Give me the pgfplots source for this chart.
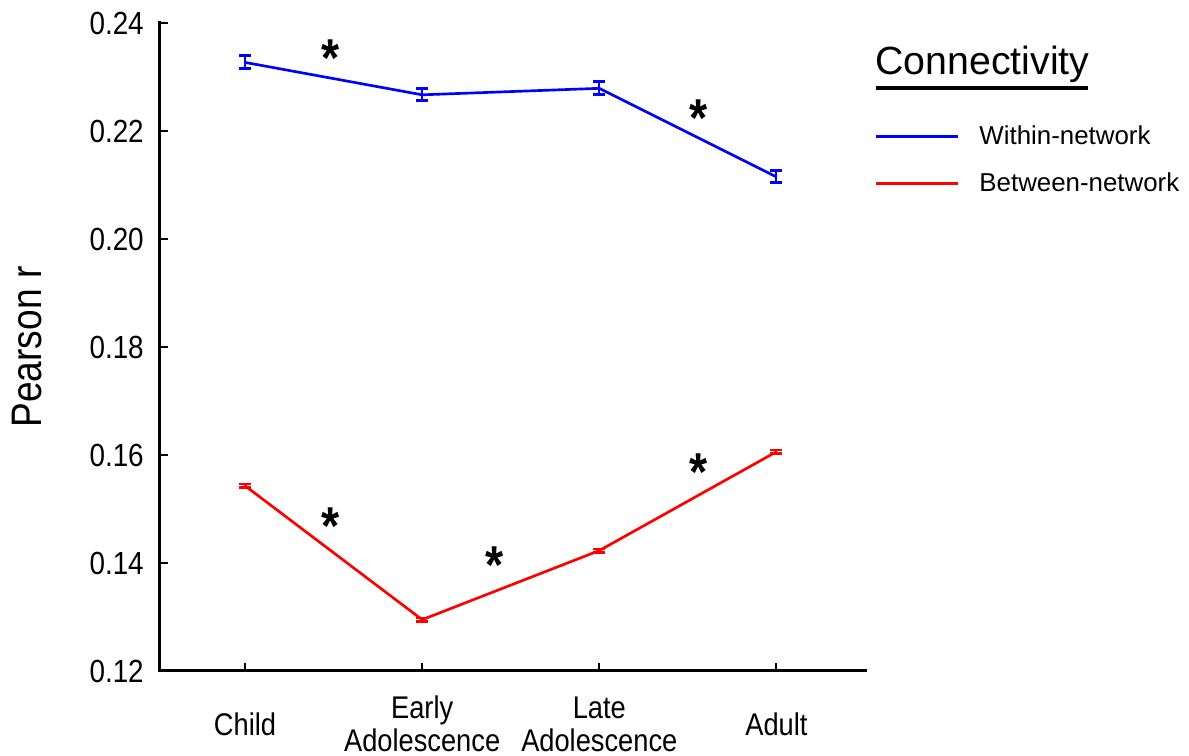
\documentclass[border=0pt]{standalone}
\usepackage{fontspec}
\setmainfont{Liberation Sans}[FakeStretch=0.87]
\newfontfamily\legfont{Liberation Sans}
\usepackage{pgfplots}
\pgfplotsset{compat=1.18}
\begin{document}
\begin{tikzpicture}
\path[use as bounding box] (-120pt,-63.75pt) rectangle (771.75pt,503.25pt);
\begin{axis}[
  at={(0pt,0pt)}, anchor=south west,
  scale only axis, width=528.75pt, height=486pt,
  xmin=-0.48, xmax=3.5, ymin=0.12, ymax=0.24,
  axis x line*=bottom, axis y line*=left,
  axis line style={line width=2.25pt, line cap=rect},
  tick align=inside, major tick length=6pt,
  tick style={line width=1.5pt, black},
  xtick={0,1,2,3},
  xticklabels={Child, Early\\Adolescence, Late\\Adolescence, Adult},
  xticklabel style={align=center, anchor=center, yshift=-39.75pt, font=\fontsize{23.5}{24.75}\selectfont},
  ytick={0.12,0.14,0.16,0.18,0.20,0.22,0.24},
  yticklabels={0.12,0.14,0.16,0.18,0.20,0.22,0.24},
  yticklabel style={anchor=east, inner sep=0pt, xshift=-12pt, font=\fontsize{24}{26}\selectfont},
  ylabel={Pearson r},
  ylabel style={at={(axis description cs:-0.188,0.5)}, anchor=center, font=\fontsize{32}{34}\selectfont},
  legend style={at={(axis description cs:1.013,0.789)}, anchor=west, draw=none, fill=none,
    inner sep=0pt, font=\legfont\fontsize{19.4}{21}\selectfont, row sep=20pt,
    nodes={inner sep=0pt, outer sep=0pt},
    /tikz/every odd column/.style={column sep=15pt}},
  legend cell align=left,
  legend image code/.code={\draw[#1, line width=2.25pt] (0pt,0pt) -- (61.5pt,0pt);},
  clip=false,
]
\addplot[blue, line width=2pt, mark=none,
  error bars/.cd, y dir=both, y explicit,
  error bar style={line width=1.5pt},
  error mark options={rotate=90, mark size=4.5pt, line width=2.25pt}]
  coordinates {
  (0,0.2327) +- (0,0.0012)
  (1,0.2267) +- (0,0.0011)
  (2,0.2279) +- (0,0.0012)
  (3,0.2115) +- (0,0.0011)
  };
\addlegendentry{Within-network}
\addplot[red, line width=2pt, mark=none,
  error bars/.cd, y dir=both, y explicit,
  error bar style={line width=1.5pt},
  error mark options={rotate=90, mark size=4.5pt, line width=2pt}]
  coordinates {
  (0,0.1543) +- (0,0.0003)
  (1,0.1295) +- (0,0.0003)
  (2,0.1423) +- (0,0.0003)
  (3,0.1606) +- (0,0.0003)
  };
\addlegendentry{Between-network}
\tikzset{star/.style={font=\fontsize{40}{40}\selectfont\bfseries, yshift=-6pt}}
\node[star] at (axis cs:0.48,0.235) {*};
\node[star] at (axis cs:2.56,0.2239) {*};
\node[star] at (axis cs:0.48,0.1483) {*};
\node[star] at (axis cs:1.41,0.1411) {*};
\node[star] at (axis cs:2.56,0.1583) {*};
\node[anchor=base west, inner sep=0pt, font=\legfont\fontsize{29.5}{31}\selectfont] at (axis description cs:1.0142,0.9198) {Connectivity};
\draw[line width=2.5pt] (axis description cs:1.0156,0.8997) -- (axis description cs:1.3163,0.8997);
\end{axis}
\end{tikzpicture}
\end{document}
